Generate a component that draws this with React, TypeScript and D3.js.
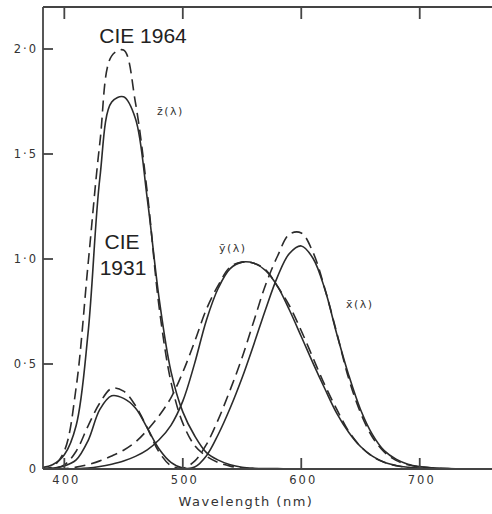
import React from "react";
import * as d3 from "d3";

const wavelengths = [380,390,400,410,420,430,440,450,460,470,480,490,500,510,520,530,540,550,560,570,580,590,600,610,620,630,640,650,660,670,680,690,700,710,720,730];

// CIE 1931 (solid)
const x1931 = [0.0014,0.0042,0.0143,0.0435,0.1344,0.2839,0.3483,0.3362,0.2908,0.1954,0.0956,0.0320,0.0049,0.0093,0.0633,0.1655,0.2904,0.4334,0.5945,0.7621,0.9163,1.0263,1.0622,1.0026,0.8544,0.6424,0.4479,0.2835,0.1649,0.0874,0.0468,0.0227,0.0114,0.0058,0.0029,0.0014];
const y1931 = [0.0000,0.0001,0.0004,0.0012,0.0040,0.0116,0.0230,0.0380,0.0600,0.0910,0.1390,0.2080,0.3230,0.5030,0.7100,0.8620,0.9540,0.9850,0.9800,0.9450,0.8700,0.7570,0.6310,0.5030,0.3810,0.2650,0.1750,0.1070,0.0610,0.0320,0.0170,0.0082,0.0041,0.0021,0.0010,0.0005];
const z1931 = [0.0065,0.0201,0.0679,0.2074,0.6456,1.3856,1.7471,1.7721,1.6692,1.2876,0.8130,0.4652,0.2720,0.1582,0.0782,0.0422,0.0203,0.0087,0.0039,0.0021,0.0017,0.0011,0.0008,0.0003,0.0002,0,0,0,0,0,0,0,0,0,0,0];

// CIE 1964 (dashed)
const x1964 = [0.0002,0.0024,0.0191,0.0847,0.2045,0.3147,0.3837,0.3707,0.3023,0.1956,0.0805,0.0162,0.0038,0.0375,0.1177,0.2365,0.3768,0.5298,0.7052,0.8787,1.0142,1.1185,1.1240,1.0305,0.8563,0.6475,0.4316,0.2683,0.1526,0.0813,0.0409,0.0199,0.0096,0.0046,0.0022,0.0010];
const y1964 = [0.0000,0.0003,0.0020,0.0088,0.0214,0.0387,0.0621,0.0895,0.1282,0.1852,0.2536,0.3391,0.4608,0.6067,0.7618,0.8752,0.9620,0.9850,0.9800,0.9480,0.8689,0.7774,0.6583,0.5280,0.3981,0.2835,0.1798,0.1076,0.0603,0.0318,0.0159,0.0077,0.0037,0.0018,0.0008,0.0004];
const z1964 = [0.0007,0.0105,0.0860,0.3894,0.9725,1.5535,1.9673,1.9948,1.7454,1.3176,0.7721,0.4153,0.2185,0.1120,0.0607,0.0305,0.0137,0.0040,0,0,0,0,0,0,0,0,0,0,0,0,0,0,0,0,0,0];

const xTicks = [400, 500, 600, 700];
const yTicks = [0, 0.5, 1.0, 1.5, 2.0];
const yTickLabels = ["0", "0·5", "1·0", "1·5", "2·0"];

const W = 492, H = 514;
const left = 43, right = 492, top = 7, bottom = 469;

export default function App() {
  const x = d3.scaleLinear().domain([382, 761]).range([left, right]);
  const y = d3.scaleLinear().domain([0, 2.2]).range([bottom, top]);
  const line = d3.line<number>()
    .x((_, i) => x(wavelengths[i]))
    .y((v) => y(v))
    .curve(d3.curveCatmullRom.alpha(0.5));

  const ink = "#2b2b2b";
  const solid = [x1931, y1931, z1931];
  const dashed = [x1964, y1964, z1964];
  const tickFont = "'DejaVu Sans', sans-serif";

  return (
    <svg width={W} height={H} style={{ position: "absolute", left: 0, top: 0, background: "#fff" }}>
      <defs>
        <clipPath id="plot">
          <rect x={left} y={top} width={right - left} height={bottom - top} />
        </clipPath>
      </defs>
      <rect x={0} y={0} width={W} height={H} fill="#fff" />
      <g clipPath="url(#plot)" fill="none" stroke={ink} strokeWidth={1.6}>
        {dashed.map((d, i) => (
          <path key={"d" + i} d={line(d) || ""} strokeDasharray="11,6" />
        ))}
        {solid.map((d, i) => (
          <path key={"s" + i} d={line(d) || ""} />
        ))}
      </g>
      {/* frame */}
      <g stroke="#444" strokeWidth={1.8} fill="none">
        <line x1={left} y1={top} x2={left} y2={bottom} />
        <line x1={left} y1={top} x2={right} y2={top} />
        <line x1={left} y1={bottom} x2={right} y2={bottom} />
      </g>
      {/* ticks */}
      <g stroke="#444" strokeWidth={1.8}>
        {xTicks.map((t) => (
          <line key={"bt" + t} x1={x(t)} x2={x(t)} y1={bottom} y2={bottom - 11} />
        ))}
        {xTicks.map((t) => (
          <line key={"tt" + t} x1={x(t)} x2={x(t)} y1={top} y2={top + 12} />
        ))}
        {yTicks.filter((t) => t > 0).map((t) => (
          <line key={"yt" + t} x1={left} x2={left + 10} y1={y(t)} y2={y(t)} />
        ))}
      </g>
      {/* tick labels */}
      <g fill="#333" fontFamily={tickFont} fontSize={11.5} letterSpacing={2}>
        {xTicks.map((t) => (
          <text key={"xl" + t} x={x(t) + 2} y={484} textAnchor="middle">{t}</text>
        ))}
        {yTicks.map((t, i) => (
          <text key={"yl" + t} x={38} y={y(t) + 4} textAnchor="end">{yTickLabels[i]}</text>
        ))}
      </g>
      <text x={246} y={506} textAnchor="middle" fontFamily={tickFont} fontSize={13} letterSpacing={1.5} fill="#333">
        Wavelength (nm)
      </text>
      {/* curve labels */}
      <g fill="#333" fontFamily={tickFont} fontSize={11} letterSpacing={1.5}>
        <text x={157} y={115}>z̄(λ)</text>
        <text x={219} y={252}>ȳ(λ)</text>
        <text x={346} y={308}>x̄(λ)</text>
      </g>
      <g fill="#222" fontFamily="'Liberation Sans', Arial, sans-serif" fontSize={21}>
        <text x={143} y={43} textAnchor="middle">CIE 1964</text>
        <text x={122} y={249} textAnchor="middle">CIE</text>
        <text x={123} y={275} textAnchor="middle">1931</text>
      </g>
    </svg>
  );
}
